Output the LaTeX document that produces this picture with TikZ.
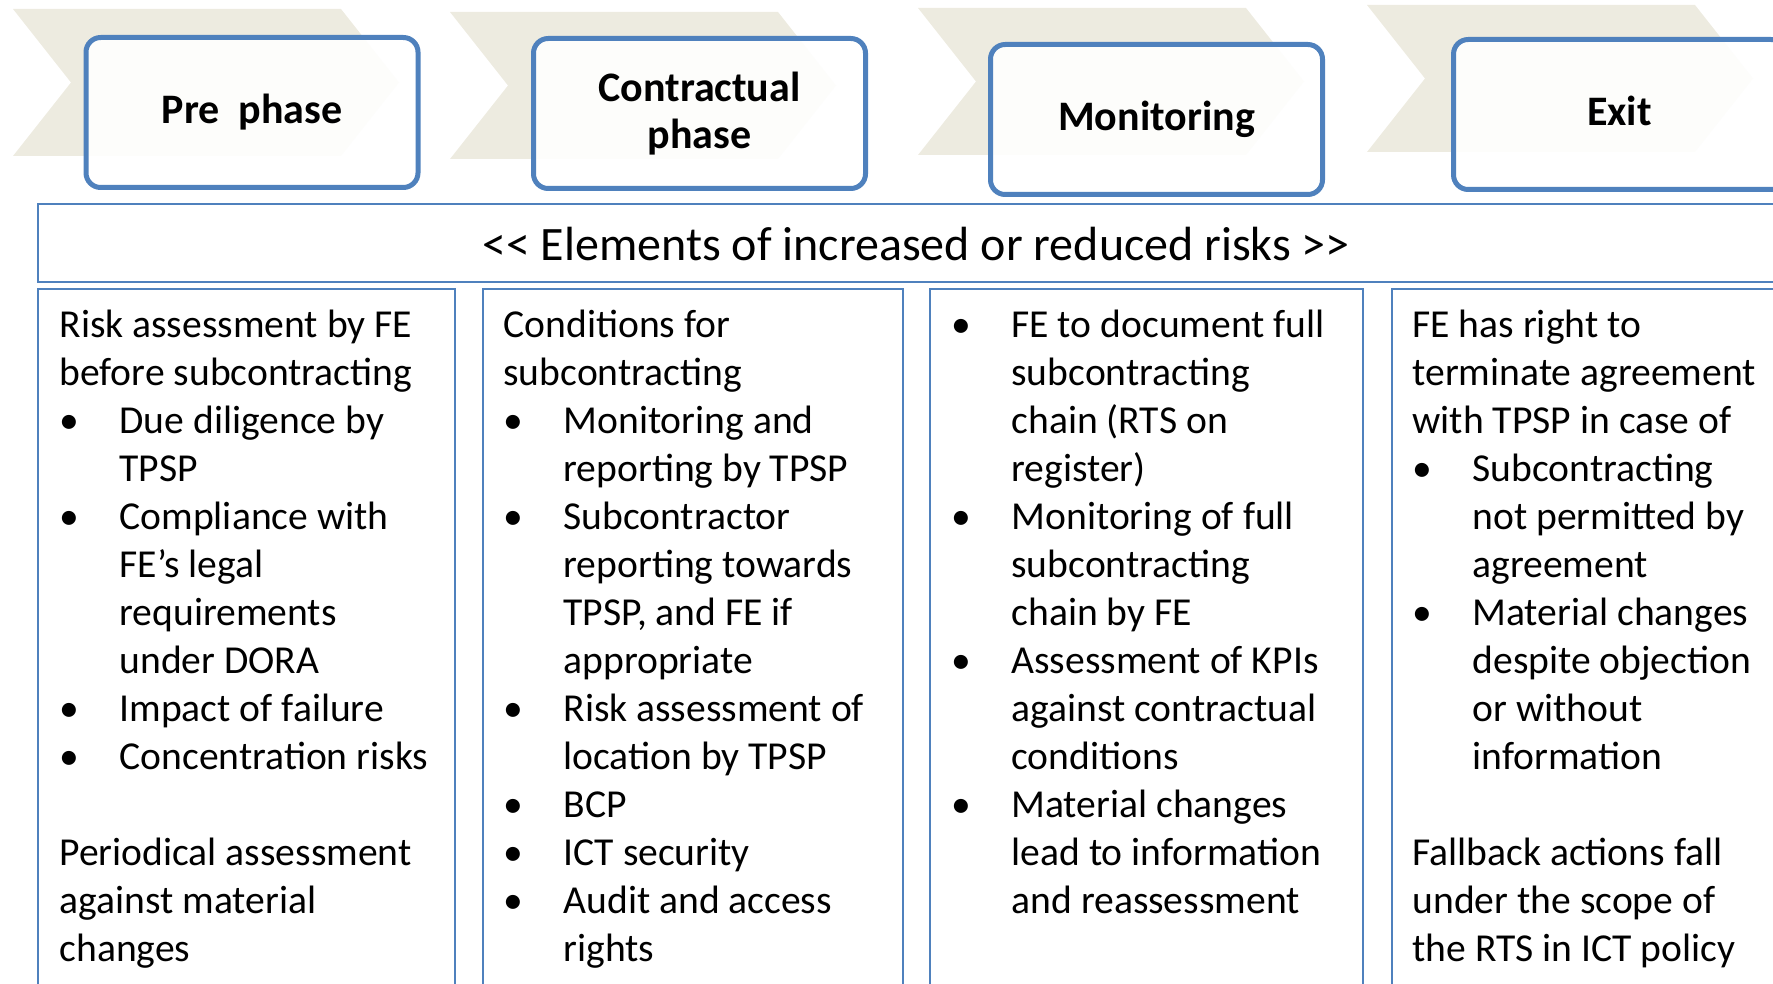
\documentclass[tikz,border=0pt]{standalone}
\usepackage{fontspec}
\setmainfont{Carlito}

\definecolor{chevgray}{RGB}{237,235,224}
\definecolor{phaseblue}{RGB}{79,129,189}

\tikzset{every picture/.style={line width=0.75pt}}
\tikzset{
  chevron/.style={fill=chevgray,draw=none},
  phasebox/.style={draw=phaseblue,line width=3.75pt,rounded corners=11pt,fill=white,fill opacity=0.9,text opacity=1,
    minimum width=249pt,minimum height=112.5pt,align=center,font=\bfseries\fontsize{31.5}{35.25}\selectfont},
  framebox/.style={draw=phaseblue,line width=1.5pt},
  coltext/.style={anchor=base west,align=left,inner sep=0pt,font=\fontsize{29.7}{36}\selectfont},
}
\newcommand\bul{\makebox[45pt][l]{\textbullet}}
\newcommand\cnt{\hspace*{45pt}}

\begin{document}
\begin{tikzpicture}[x=0.75pt,y=0.75pt,yscale=-1,xscale=1]
\clip (0,0) rectangle (1773,984);

% Chevrons behind the phases
\foreach \cx/\cy in {13/9,450/12,918/8,1367/5}
  \fill[chevron] (\cx,\cy) -- ++(328,0) -- ++(58,73.5) -- ++(-58,73.5) -- ++(-328,0) -- ++(58,-73.5) -- cycle;

% Phase boxes
\node[phasebox] (pre) at (252,112.5) {Pre~ phase};
\node[phasebox] (contract) at (699.5,113.5) {Contractual\\phase};
\node[phasebox] (monitor) at (1156.5,119.5) {Monitoring};
\node[phasebox] (exit) at (1619.5,114.5) {Exit\vphantom{g}};

% Header bar
\draw[framebox] (38,204) rectangle (1800,282);
\node[font=\fontsize{36}{43}\selectfont] (hdr) at (916,244) {<{}< Elements of increased or reduced risks >{}>};

% Columns
\draw[framebox] (38,289) rectangle (455,1000);
\draw[framebox] (483,289) rectangle (903,1000);
\draw[framebox] (930,289) rectangle (1363,1000);
\draw[framebox] (1392,289) rectangle (1800,1000);

% Text Node (placed by the baseline of its last line)
\node[coltext] (pretxt) at (59,961) {Risk assessment by FE\\before subcontracting\\
\bul Due diligence by\\\cnt TPSP\\
\bul Compliance with\\\cnt FE’s legal\\\cnt requirements\\\cnt under DORA\\
\bul Impact of failure\\
\bul Concentration risks\\[36pt]
Periodical assessment\\against material\\changes};
% Text Node
\node[coltext] (contracttxt) at (503,961) {Conditions for\\subcontracting\\
\bul Monitoring and\\\cnt reporting by TPSP\\
\bul Subcontractor\\\cnt reporting towards\\\cnt TPSP, and FE if\\\cnt appropriate\\
\bul Risk assessment of\\\cnt location by TPSP\\
\bul BCP\\
\bul ICT security\\
\bul Audit and access\\\cnt rights};
% Text Node
\node[coltext] (monitortxt) at (951,913) {\bul FE to document full\\\cnt subcontracting\\\cnt chain (RTS on\\\cnt register)\\
\bul Monitoring of full\\\cnt subcontracting\\\cnt chain by FE\\
\bul Assessment of KPIs\\\cnt against contractual\\\cnt conditions\\
\bul Material changes\\\cnt lead to information\\\cnt and reassessment};
% Text Node
\node[coltext] (exittxt) at (1412,961) {FE has right to\\terminate agreement\\with TPSP in case of\\
\bul Subcontracting\\\cnt not permitted by\\\cnt agreement\\
\bul Material changes\\\cnt despite objection\\\cnt or without\\\cnt information\\[36pt]
Fallback actions fall\\under the scope of\\the RTS in ICT policy};

\end{tikzpicture}
\end{document}
